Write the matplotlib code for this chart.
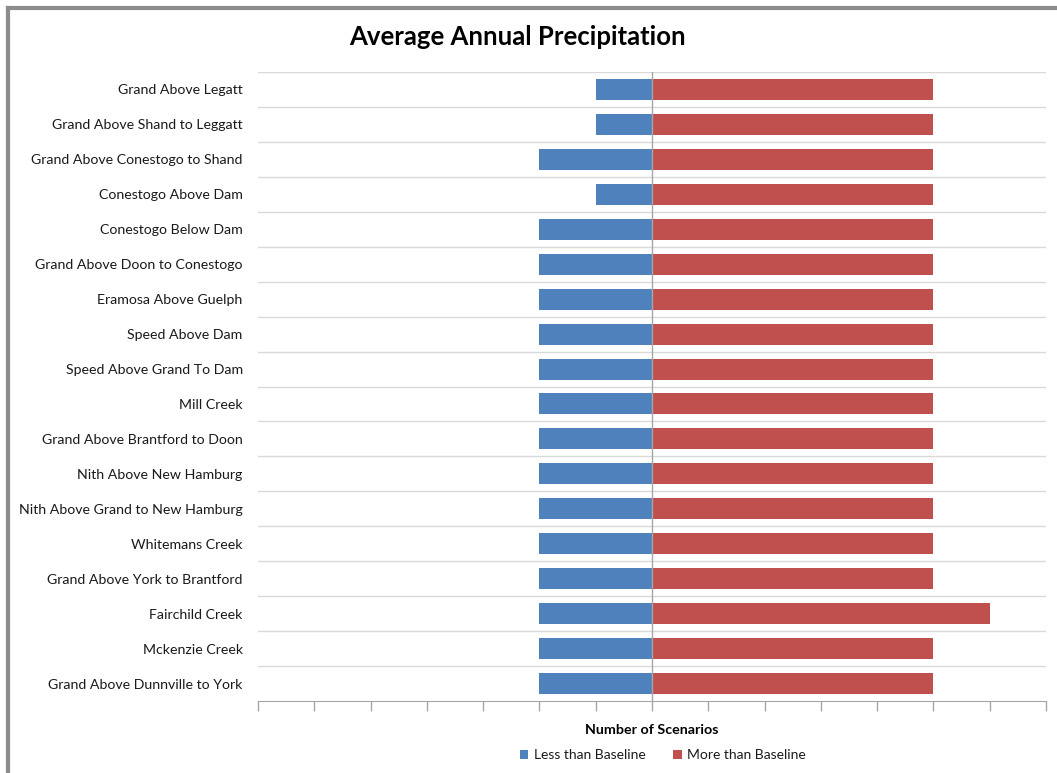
import matplotlib
matplotlib.use("Agg")
import matplotlib.pyplot as plt
from matplotlib.lines import Line2D
import numpy as np

categories = [
    "Grand Above Legatt",
    "Grand Above Shand to Leggatt",
    "Grand Above Conestogo to Shand",
    "Conestogo Above Dam",
    "Conestogo Below Dam",
    "Grand Above Doon to Conestogo",
    "Eramosa Above Guelph",
    "Speed Above Dam",
    "Speed Above Grand To Dam",
    "Mill Creek",
    "Grand Above Brantford to Doon",
    "Nith Above New Hamburg",
    "Nith Above Grand to New Hamburg",
    "Whitemans Creek",
    "Grand Above York to Brantford",
    "Fairchild Creek",
    "Mckenzie Creek",
    "Grand Above Dunnville to York",
]
less_than = [1, 1, 2, 1, 2, 2, 2, 2, 2, 2, 2, 2, 2, 2, 2, 2, 2, 2]
more_than = [5, 5, 5, 5, 5, 5, 5, 5, 5, 5, 5, 5, 5, 5, 5, 6, 5, 5]

FONT = ["Lato", "DejaVu Sans"]
plt.rcParams["font.family"] = FONT

W, H = 1057, 773
fig = plt.figure(figsize=(W / 100, H / 100), dpi=100)
ax = fig.add_axes([258 / W, 1 - 701 / H, (1046 - 258) / W, (701 - 72) / H])

n = len(categories)
y = np.arange(n)
blue = "#4F81BD"
red = "#C0504D"
ax.barh(y, [-v for v in less_than], height=0.6, color=blue, label="Less than Baseline", zorder=3)
ax.barh(y, more_than, height=0.6, color=red, label="More than Baseline", zorder=3)

ax.set_xlim(-7, 7)
ax.set_ylim(n - 0.5, -0.5)
ax.set_xticks(np.arange(-7, 8, 1))
ax.set_xticklabels([])
ax.tick_params(axis="x", length=7, color="#a6a6a6", width=1, direction="out")
ax.set_yticks(y)
ax.set_yticklabels(categories, fontsize=10.2, color="#1a1a1a")
ax.tick_params(axis="y", length=0, pad=11)
ax.set_yticks(np.arange(-0.5, n - 0.5, 1), minor=True)
ax.tick_params(axis="y", which="minor", length=0)
ax.grid(axis="y", which="minor", color="#d9d9d9", linewidth=1, zorder=0)
ax.grid(axis="y", which="major", visible=False)
for s in ["left", "right", "top"]:
    ax.spines[s].set_visible(False)
ax.spines["bottom"].set_color("#a6a6a6")
ax.axvline(0, color="#a6a6a6", linewidth=1, zorder=4)

fig.text(517 / W, 1 - 37 / H, "Average Annual Precipitation", ha="center", va="center",
         fontsize=18.5, fontweight="bold", color="black")
fig.text(652 / W, 1 - 730 / H, "Number of Scenarios", ha="center", va="center",
         fontsize=10.3, fontweight="bold", color="black")

leg = fig.legend(loc="center", bbox_to_anchor=(663 / W, 1 - 755 / H), ncol=2, frameon=False,
                 fontsize=10, handlelength=0.6, handleheight=0.6, columnspacing=2.0,
                 handletextpad=0.4)
for t in leg.get_texts():
    t.set_color("#1a1a1a")

# outer frame
fig.add_artist(Line2D([8 / W, 8 / W], [0, 1 - 8 / H], color="#8c8c8c", linewidth=3,
                      transform=fig.transFigure))
fig.add_artist(Line2D([8 / W, 1], [1 - 8 / H, 1 - 8 / H], color="#8c8c8c", linewidth=3,
                      transform=fig.transFigure))

fig.savefig("out.png", dpi=100)
